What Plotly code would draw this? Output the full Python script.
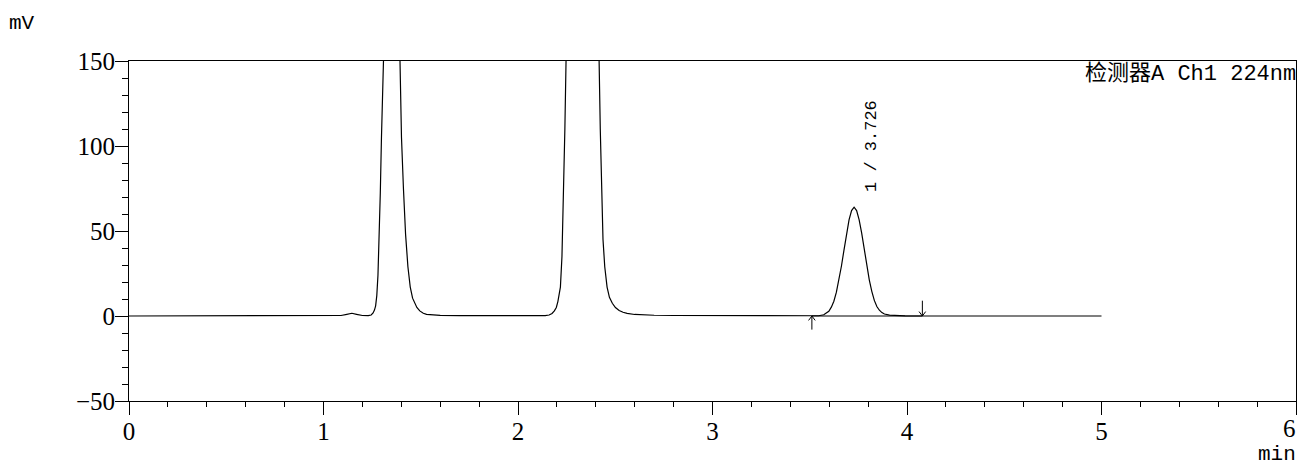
import plotly.graph_objects as go

# Chromatogram signal (time in min, signal in mV)
time_min = [
    0.00, 0.50, 1.00, 1.05, 1.09, 1.12, 1.146, 1.17, 1.20, 1.23, 1.245, 1.255, 1.262, 1.268,
    1.274, 1.280, 1.286, 1.292, 1.298, 1.305, 1.315, 1.325, 1.337, 1.348, 1.360, 1.372,
    1.382, 1.391, 1.401, 1.411, 1.422, 1.434, 1.446, 1.458, 1.470, 1.480, 1.495, 1.513,
    1.530, 1.560, 1.600, 1.700, 1.800, 2.000, 2.100, 2.140, 2.160, 2.175, 2.187, 2.197,
    2.205, 2.212, 2.218, 2.226, 2.235, 2.241, 2.247, 2.260, 2.280, 2.300, 2.332, 2.360,
    2.390, 2.405, 2.417, 2.423, 2.429, 2.437, 2.446, 2.458, 2.470, 2.485, 2.501, 2.520,
    2.540, 2.561, 2.600, 2.650, 2.700, 2.800, 3.000, 3.300, 3.500, 3.546, 3.572, 3.598,
    3.611, 3.624, 3.637, 3.650, 3.663, 3.676, 3.689, 3.702, 3.715, 3.728, 3.741, 3.754,
    3.767, 3.780, 3.793, 3.806, 3.819, 3.832, 3.845, 3.858, 3.871, 3.884, 3.910, 3.940,
    3.990, 4.100, 4.500, 5.000,
]
signal_mv = [
    0.0, 0.0, 0.0, 0.0, 0.3, 1.0, 1.6, 1.0, 0.3, 0.2, 0.6, 1.8, 3.5, 6.0,
    12.0, 24.0, 44.0, 72.0, 105.0, 150.0, 215.0, 270.0, 310.0, 322.0, 312.0, 275.0,
    215.0, 150.0, 105.0, 75.0, 48.0, 29.0, 17.0, 10.5, 7.0, 5.0, 3.0, 1.6,
    1.0, 0.6, 0.35, 0.2, 0.1, 0.05, 0.05, 0.2, 0.6, 1.5, 3.0, 5.0,
    8.5, 12.5, 17.0, 35.0, 75.0, 110.0, 150.0, 280.0, 550.0, 850.0, 1000.0, 900.0,
    550.0, 300.0, 150.0, 110.0, 75.0, 45.0, 29.0, 17.0, 11.0, 7.5, 5.0, 3.2,
    2.2, 1.5, 0.9, 0.6, 0.45, 0.3, 0.2, 0.1, 0.05, 0.14, 0.71, 2.81,
    5.2, 8.66, 14.0, 20.8, 29.4, 38.8, 48.5, 56.5, 62.0, 64.0, 62.0, 56.5,
    48.7, 39.2, 29.8, 21.3, 14.5, 9.2, 5.6, 3.4, 2.0, 1.2, 0.5, 0.2,
    0.05, 0.0, 0.0, 0.0,
]

# Peak label and integration limits
peak_label = "1 / 3.726"
peak_label_time = 3.815
peak_label_mv = 100
integration_start = 3.511
integration_end = 4.079

x_ticks = [0, 1, 2, 3, 4, 5, 6]
x_tick_text = ["0", "1", "2", "3", "4", "5", ""]   # "6" is drawn right-aligned below
y_ticks = [-50, 0, 50, 100, 150]

mono = "Liberation Mono, Noto Sans CJK SC, monospace"
serif = "Liberation Serif"

fig = go.Figure()
fig.add_trace(go.Scatter(
    x=time_min, y=signal_mv, mode="lines",
    line=dict(color="black", width=1.2), showlegend=False, hoverinfo="skip",
))

# integration baseline
fig.add_shape(type="line", xref="x", yref="y", x0=integration_start, x1=integration_end,
              y0=0, y1=0, line=dict(color="black", width=1))

# start marker (arrow up) and end marker (arrow down)
aw, ah = 0.017, 2.6
fig.add_shape(type="path", xref="x", yref="y",
              path=(f"M{integration_start},-8 L{integration_start},0 "
                    f"M{integration_start - aw},{-ah} L{integration_start},0 L{integration_start + aw},{-ah}"),
              line=dict(color="black", width=1))
fig.add_shape(type="path", xref="x", yref="y",
              path=(f"M{integration_end},9 L{integration_end},0 "
                    f"M{integration_end - aw},{ah} L{integration_end},0 L{integration_end + aw},{ah}"),
              line=dict(color="black", width=1))

fig.add_annotation(x=peak_label_time, y=peak_label_mv, xref="x", yref="y",
                   text=peak_label, textangle=-90, showarrow=False,
                   font=dict(family=mono, size=17, color="black"))
fig.add_annotation(x=1, y=1, xref="paper", yref="paper", xanchor="right", yanchor="top",
                   text="检测器A Ch1 224nm", showarrow=False, xshift=2, yshift=2,
                   font=dict(family=mono, size=22, color="black"))
fig.add_annotation(x=0, y=1, xref="paper", yref="paper", xanchor="left", yanchor="bottom",
                   text="mV", showarrow=False, xshift=-122, yshift=24,
                   font=dict(family=mono, size=21, color="black"))
fig.add_annotation(x=1, y=0, xref="paper", yref="paper", xanchor="right", yanchor="top",
                   text="min", showarrow=False, xshift=2, yshift=-40,
                   font=dict(family=mono, size=21, color="black"))
fig.add_annotation(x=x_ticks[-1], y=0, xref="x", yref="paper", xanchor="right", yanchor="top",
                   text=str(x_ticks[-1]), showarrow=False, xshift=2, yshift=-12,
                   font=dict(family=serif, size=25, color="black"))

fig.update_xaxes(
    range=[0, 6], tickvals=x_ticks, ticktext=x_tick_text, ticks="outside", ticklen=13,
    tickwidth=1, tickcolor="black", ticklabelstandoff=-5,
    showline=True, linecolor="black", linewidth=1, mirror=True, showgrid=False, zeroline=False,
    automargin=False,
    minor=dict(dtick=0.2, ticks="outside", ticklen=5, tickwidth=1, tickcolor="black", showgrid=False),
    tickfont=dict(family=serif, size=25, color="black"),
)
fig.update_yaxes(
    range=[-50, 150], tickvals=y_ticks, ticks="outside", ticklen=13, tickwidth=1,
    tickcolor="black", ticklabelstandoff=-5,
    showline=True, linecolor="black", linewidth=1, mirror=True, showgrid=False, zeroline=False,
    automargin=False,
    minor=dict(dtick=10, ticks="outside", ticklen=6, tickwidth=1, tickcolor="black", showgrid=False),
    tickfont=dict(family=serif, size=25, color="black"),
)
fig.update_layout(
    width=1298, height=465,
    margin=dict(l=129, r=2, t=61, b=64),
    paper_bgcolor="white", plot_bgcolor="white",
    showlegend=False,
)
# remove the default 8px page margin so the figure fills the window exactly
fig.write_html(
    "out.html",
    config={"displayModeBar": False},
    post_script="document.body.style.margin='0';document.body.style.overflow='hidden';",
)
